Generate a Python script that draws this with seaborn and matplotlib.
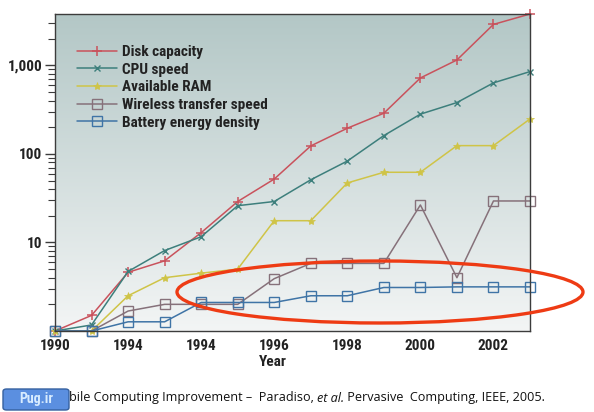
import numpy as np
import pandas as pd
import matplotlib
matplotlib.use("Agg")
import matplotlib.pyplot as plt
import seaborn as sns
from matplotlib import font_manager
from matplotlib.patches import Ellipse, FancyBboxPatch
from matplotlib.ticker import FixedLocator, FixedFormatter, LogLocator, NullFormatter

# ---------------- data ----------------
years_idx = list(range(14))
tick_positions = [0, 2, 4, 6, 8, 10, 12]
tick_labels = ["1990", "1994", "1994", "1996", "1998", "2000", "2002"]

disk_capacity = [1, 1.5, 4.6, 6.2, 12.9, 29, 52, 123, 195, 288, 720, 1150, 2900, 3800]
cpu_speed = [1, 1.17, 4.7, 8.1, 11.6, 26, 29, 51, 83, 161, 281, 380, 634, 850]
available_ram = [1, 1, 2.5, 4.0, 4.5, 5.0, 17.6, 17.6, 47, 62, 62, 124, 124, 248]
wireless_speed = [1, 1, 1.68, 2.0, 2.0, 2.0, 3.9, 5.8, 5.8, 5.8, 26.5, 4.0, 29.4, 29.4]
battery_density = [1, 1, 1.27, 1.27, 2.1, 2.1, 2.1, 2.5, 2.5, 3.1, 3.1, 3.15, 3.15, 3.15]

series_names = ["Disk capacity", "CPU speed", "Available RAM",
                "Wireless transfer speed", "Battery energy density"]
series_values = [disk_capacity, cpu_speed, available_ram, wireless_speed, battery_density]
series_colors = ["#c9525c", "#3d7f7c", "#cfc447", "#86717a", "#3f74a6"]

caption_parts = ["bile Computing Improvement \u2013  Paradiso, ", "et al.",
                 " Pervasive  Computing, IEEE, 2005."]

# ---------------- fonts ----------------
sns.set_theme(style="white")
available = {f.name for f in font_manager.fontManager.ttflist}
cond = "DejaVu Sans"
for cand in ["Liberation Sans Narrow", "Roboto Condensed", "DejaVu Sans Condensed",
             "Open Sans Condensed", "Liberation Sans"]:
    if cand in available:
        cond = cand
        break
plt.rcParams["font.family"] = [cond, "DejaVu Sans"]

W, H = 594, 412
fig = plt.figure(figsize=(W / 100, H / 100), dpi=100)
L, R, T, B = 55, 530, 14, 331
pos = [L / W, 1 - B / H, (R - L) / W, (B - T) / H]

# gradient background
bg = fig.add_axes(pos, zorder=0)
grad = np.linspace(0, 1, 256)[:, None]
top_c = np.array([0xb3, 0xc7, 0xc6]) / 255
bot_c = np.array([0xf3, 0xf5, 0xf5]) / 255
img = top_c[None, None, :] * (1 - grad[:, :, None]) + bot_c[None, None, :] * grad[:, :, None]
bg.imshow(np.repeat(img, 4, axis=1), aspect="auto", extent=[0, 1, 0, 1], origin="upper")
bg.set_axis_off()

ax = fig.add_axes(pos, zorder=1)
ax.patch.set_alpha(0)

marker_specs = [
    dict(marker="+", markersize=6.5, markeredgewidth=1.1),
    dict(marker="x", markersize=4.5, markeredgewidth=1.0),
    dict(marker="*", markersize=6, markeredgewidth=0.5),
    dict(marker="s", markersize=6.5, markeredgewidth=1.0, markerfacecolor="none"),
    dict(marker="s", markersize=6.5, markeredgewidth=1.0, markerfacecolor="none"),
]

for name, vals, col, ms in zip(series_names, series_values, series_colors, marker_specs):
    df = pd.DataFrame({"x": years_idx, "y": vals})
    spec = dict(ms)
    spec.setdefault("markerfacecolor", col)
    sns.lineplot(data=df, x="x", y="y", ax=ax, color=col, linewidth=1.1,
                 markeredgecolor=col, label=name, clip_on=False, **spec)

ax.set_yscale("log")
ax.set_ylim(1, 3800)
ax.set_xlim(0, 13)
ax.xaxis.set_major_locator(FixedLocator(tick_positions))
ax.xaxis.set_major_formatter(FixedFormatter(tick_labels))
ax.yaxis.set_major_locator(FixedLocator([10, 100, 1000]))
ax.yaxis.set_major_formatter(FixedFormatter(["10", "100", "1,000"]))
ax.yaxis.set_minor_locator(LogLocator(base=10, subs=np.arange(2, 10), numticks=20))
ax.yaxis.set_minor_formatter(NullFormatter())

for s in ax.spines.values():
    s.set_color("#3c3c3c")
    s.set_linewidth(1.0)

ax.tick_params(axis="x", length=0, pad=6, labelsize=11, labelcolor="#222222")
ax.tick_params(axis="y", which="major", length=7, width=1, color="#3c3c3c",
               pad=2, labelsize=11, labelcolor="#222222", left=True)
ax.tick_params(axis="y", which="minor", length=5, width=0.8, color="#3c3c3c", left=True)
for lab in ax.get_xticklabels() + ax.get_yticklabels():
    lab.set_fontweight("bold")

ax.set_ylabel("")
ax.set_xlabel("Year", fontsize=11, fontweight="bold", color="#222222")
ax.xaxis.set_label_coords((273 - L) / (R - L), -(362 - B) / (B - T), transform=ax.transAxes)
ax.xaxis.label.set_verticalalignment("center")

leg = ax.legend(loc="upper left", bbox_to_anchor=((77 - L) / (R - L), 1 - (45 - T) / (B - T)),
                frameon=False, fontsize=11, handlelength=2.6, handletextpad=0.35,
                labelspacing=0.24, borderaxespad=0, borderpad=0)
for t in leg.get_texts():
    t.set_fontweight("bold")
    t.set_color("#222222")

# highlight ellipse (annotation)
ell = Ellipse((380 / W, 1 - 292 / H), width=406 / W, height=62 / H,
              transform=fig.transFigure, fill=False, edgecolor="#ee3b14", linewidth=2.4,
              zorder=10)
fig.add_artist(ell)

# logo box
logo = FancyBboxPatch((3 / W, 1 - 410 / H), 66 / W, 21 / H,
                      boxstyle="round,pad=0,rounding_size=0.006",
                      transform=fig.transFigure, facecolor="#5b8fe0",
                      edgecolor="#35609f", linewidth=1.0, zorder=5)
fig.add_artist(logo)
fig.text(36 / W, 1 - 399 / H, "Pug.ir", transform=fig.transFigure, ha="center", va="center",
         fontsize=10, fontweight="bold", color="#d8ecff", family=[cond, "DejaVu Sans"], zorder=6)

# caption
fig.canvas.draw()
renderer = fig.canvas.get_renderer()
x = 69 / W
cap_y = 1 - 398 / H
styles = ["normal", "italic", "normal"]
for part, st in zip(caption_parts, styles):
    t = fig.text(x, cap_y, part, fontsize=9.1, fontstyle=st, color="#111111",
                 family=["Open Sans", "DejaVu Sans"], va="center", ha="left")
    bb = t.get_window_extent(renderer=renderer)
    x = (bb.x1) / W

fig.savefig("out.png", dpi=100)
